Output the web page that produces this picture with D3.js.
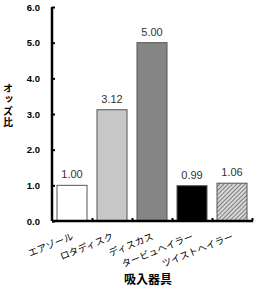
<!DOCTYPE html>
<html><head><meta charset="utf-8">
<script src="https://cdn.jsdelivr.net/npm/d3@7"></script>
<style>body{margin:0;background:#fff}</style>
</head><body>
<script>
const categories = ["エアゾール","ロタディスク","ディスカス","タービュヘイラー","ツイストヘイラー"];
const values = [1.00, 3.12, 5.00, 0.99, 1.06];
const labels = ["1.00","3.12","5.00","0.99","1.06"];
const yTicks = [0,1,2,3,4,5,6];
const fills = ["#ffffff","#c8c8c8","#858585","#000000","url(#hatch)"];
const yTitle = "オッズ比";
const xTitle = "吸入器具";

const W=259,H=289;
const svg=d3.select("body").append("svg").attr("width",W).attr("height",H);
const defs=svg.append("defs");
const pat=defs.append("pattern").attr("id","hatch").attr("patternUnits","userSpaceOnUse")
  .attr("width",3).attr("height",3).attr("patternTransform","rotate(45)");
pat.append("rect").attr("width",3).attr("height",3).attr("fill","#d8d8d8");
pat.append("line").attr("x1",0).attr("y1",0).attr("x2",0).attr("y2",3).attr("stroke","#555").attr("stroke-width",1.4);

const x0=52,x1=252,yTop=7,yBot=221;
const x=d3.scaleBand().domain(categories).range([x0,x1]).paddingInner(0.25).paddingOuter(0.125);
const y=d3.scaleLinear().domain([0,6]).range([yBot,yTop]);
const font="'Liberation Sans', Arial, 'Noto Sans CJK JP', sans-serif";
const jfont="'Noto Sans CJK JP', sans-serif";

// bars
svg.selectAll("rect.bar").data(values).enter().append("rect")
  .attr("x",(d,i)=>x(categories[i])).attr("width",x.bandwidth())
  .attr("y",d=>y(d)).attr("height",d=>yBot-y(d))
  .attr("fill",(d,i)=>fills[i]).attr("stroke","#555").attr("stroke-width",1);

// value labels
svg.selectAll("text.val").data(values).enter().append("text")
  .attr("x",(d,i)=>x(categories[i])+x.bandwidth()/2).attr("y",d=>y(d)-7)
  .attr("text-anchor","middle").attr("font-family",font).attr("font-size",11).attr("fill","#333")
  .text((d,i)=>labels[i]);

// y axis
const ya=svg.append("g").attr("transform",`translate(${x0},0)`)
  .call(d3.axisLeft(y).tickValues(yTicks).tickSize(-3).tickPadding(12).tickFormat(d3.format(".1f")));
ya.select(".domain").attr("stroke","#000").attr("stroke-width",2.5).attr("d",`M0,${yTop}V${yBot}`);
ya.selectAll(".tick line").attr("stroke","#000").attr("stroke-width",2);
ya.selectAll(".tick text").attr("font-family",font).attr("font-size",9.5).attr("font-weight","bold").attr("fill","#000");

// x axis
const bandStep=x.step();
const bounds=categories.map((c,i)=>x0+bandStep*(i+1));
const xs=d3.scaleLinear().domain([x0,x1]).range([x0,x1]);
const xa=svg.append("g").attr("transform",`translate(0,${yBot})`)
  .call(d3.axisBottom(xs).tickValues(bounds).tickSize(-3).tickFormat(""));
xa.select(".domain").attr("stroke","#000").attr("stroke-width",2.5).attr("d",`M${x0},0H${x1+1}`);
xa.selectAll(".tick line").attr("stroke","#000").attr("stroke-width",2);

// x category labels
svg.selectAll("text.cat").data(categories).enter().append("text")
  .attr("transform",d=>`translate(${x(d)+x.bandwidth()/2+2},${yBot+18}) rotate(-22)`)
  .attr("text-anchor","end").attr("font-family",jfont).attr("font-size",9.5).attr("fill","#000")
  .text(d=>d);

// y title vertical (upright characters)
svg.append("text").attr("x",8).attr("y",83)
  .style("writing-mode","vertical-rl").style("text-orientation","upright")
  .attr("letter-spacing",1.5)
  .attr("font-family",jfont).attr("font-size",10).attr("font-weight","bold").attr("fill","#000")
  .text(yTitle);

// x title
svg.append("text").attr("x",148).attr("y",284).attr("text-anchor","middle")
  .attr("font-family",jfont).attr("font-size",12).attr("font-weight","bold").attr("fill","#000").text(xTitle);
</script>
</body></html>
